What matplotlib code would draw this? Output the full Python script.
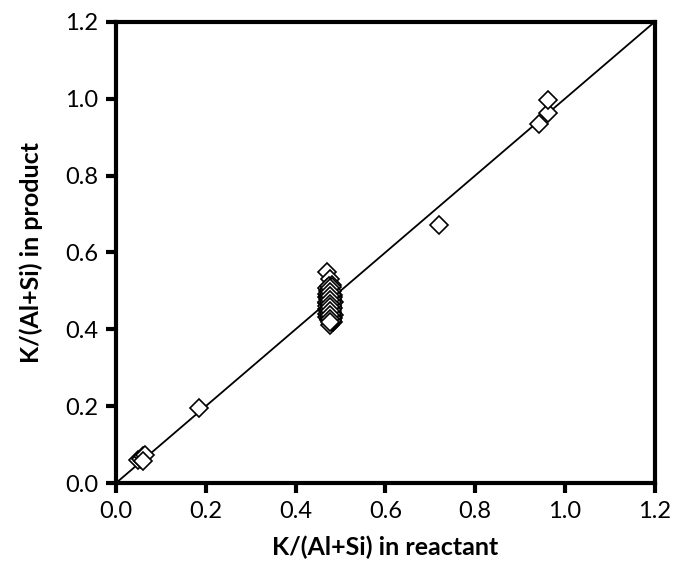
import numpy as np
import matplotlib as mpl
mpl.use('agg')
import matplotlib.pyplot as plt

plt.rcParams['font.family'] = ['Lato', 'DejaVu Sans']

# K/(Al+Si) ratio: reactant (x) vs product (y)
reactant = np.array([
    0.050, 0.055, 0.060, 0.065, 0.060,
    0.185,
    0.470, 0.477, 0.480, 0.472, 0.478, 0.482, 0.475, 0.470, 0.480,
    0.476, 0.472, 0.481, 0.478, 0.474, 0.479, 0.483, 0.471, 0.477,
    0.473, 0.479, 0.484, 0.469, 0.476, 0.481, 0.474, 0.478, 0.470,
    0.482, 0.475, 0.480, 0.473, 0.477,
    0.471, 0.475, 0.479, 0.483, 0.469, 0.473, 0.477, 0.481, 0.485,
    0.471, 0.475, 0.479, 0.483, 0.469, 0.473, 0.477, 0.481, 0.485,
    0.472, 0.476, 0.480, 0.484, 0.470, 0.474, 0.478, 0.482,
    0.474, 0.474, 0.474, 0.474, 0.474, 0.474, 0.474, 0.474, 0.474, 0.474,
    0.480, 0.480, 0.480, 0.480, 0.480, 0.480, 0.480, 0.480, 0.480, 0.480,
    0.477, 0.477, 0.477, 0.477, 0.477, 0.477, 0.477, 0.477, 0.477, 0.477,
    0.720,
    0.942, 0.962, 0.962,
])
product = np.array([
    0.060, 0.063, 0.070, 0.072, 0.058,
    0.195,
    0.550, 0.530, 0.515, 0.500, 0.490, 0.480, 0.475, 0.468, 0.460,
    0.455, 0.450, 0.445, 0.440, 0.435, 0.430, 0.420, 0.440, 0.412,
    0.505, 0.498, 0.485, 0.485, 0.470, 0.465, 0.458, 0.448, 0.452,
    0.438, 0.428, 0.425, 0.478, 0.462,
    0.508, 0.503, 0.495, 0.488, 0.493, 0.487, 0.482, 0.476, 0.470,
    0.472, 0.466, 0.462, 0.456, 0.460, 0.453, 0.448, 0.442, 0.436,
    0.447, 0.441, 0.436, 0.430, 0.432, 0.427, 0.422, 0.418,
    0.512, 0.502, 0.492, 0.482, 0.472, 0.462, 0.452, 0.442, 0.432, 0.424,
    0.510, 0.500, 0.490, 0.480, 0.470, 0.460, 0.450, 0.440, 0.430, 0.421,
    0.507, 0.497, 0.487, 0.477, 0.467, 0.457, 0.447, 0.437, 0.427, 0.419,
    0.670,
    0.935, 0.963, 0.997,
])

fig = plt.figure(figsize=(6.76, 5.73), dpi=100)
ax = fig.add_axes([0.1716, 0.157, 0.797, 0.805])

ax.plot([0, 1.2], [0, 1.2], '-', color='black', lw=1.3, zorder=2)
ax.plot(reactant, product, ls='none', marker='D', ms=9.5,
        mfc='white', mec='black', mew=1.2, zorder=3)

ax.set_xlim(0, 1.2)
ax.set_ylim(0, 1.2)
ticks = np.arange(0, 1.21, 0.2)
ax.set_xticks(ticks)
ax.set_yticks(ticks)
ax.set_xticklabels(['%.1f' % t for t in ticks])
ax.set_yticklabels(['%.1f' % t for t in ticks])

for sp in ax.spines.values():
    sp.set_linewidth(3)
ax.tick_params(direction='out', length=7, width=3, labelsize=17, pad=6)

ax.set_xlabel('K/(Al+Si) in reactant', fontsize=18, fontweight='bold', labelpad=10)
ax.set_ylabel('K/(Al+Si) in product', fontsize=18, fontweight='bold', labelpad=16)

plt.savefig('out.png', dpi=100)
